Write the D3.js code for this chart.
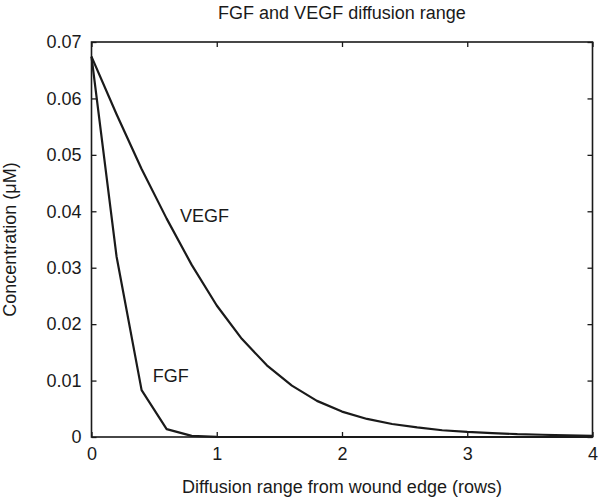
<!DOCTYPE html>
<html>
<head>
<meta charset="utf-8">
<script src="https://cdn.jsdelivr.net/npm/d3@7"></script>
<style>
  html, body { margin: 0; padding: 0; background: #fff; }
  svg { display: block; font-family: "Liberation Sans", Arial, Helvetica, sans-serif; }
</style>
</head>
<body>
<svg id="chart" width="601" height="501"></svg>
<script>
// ---- data ----
const distance = [0, 0.2, 0.4, 0.6, 0.8, 1.0, 1.2, 1.4, 1.6, 1.8, 2.0, 2.2, 2.4, 2.6, 2.8, 3.0, 3.2, 3.4, 3.6, 3.8, 4.0];
const vegf = [0.0674, 0.0572, 0.0475, 0.0387, 0.0305, 0.0233, 0.0174, 0.0127, 0.0091, 0.0064, 0.0045, 0.0032, 0.0023, 0.0017, 0.0012, 0.0009, 0.0007, 0.0005, 0.0004, 0.0003, 0.0002];
const fgf = [0.0674, 0.0320, 0.0083, 0.0014, 0.0002, 0.00003, 0, 0, 0, 0, 0, 0, 0, 0, 0, 0, 0, 0, 0, 0, 0];
const xTicks = [0, 1, 2, 3, 4];
const yTicks = [0, 0.01, 0.02, 0.03, 0.04, 0.05, 0.06, 0.07];
const seriesNames = ["VEGF", "FGF"];
const labelX = [0.707, 0.49];
const labelY = [0.0381, 0.00975];
const title = "FGF and VEGF diffusion range";
const xTitle = "Diffusion range from wound edge (rows)";
const yTitle = "Concentration (\u03bcM)";

// ---- layout ----
const L = 91.5, R = 592.5, T = 42, B = 437;
const ink = "#1a1a1a";
const fs = 18;
const svg = d3.select("#chart");

const x = d3.scaleLinear().domain([0, 4]).range([L, R]);
const y = d3.scaleLinear().domain([0, 0.07]).range([B, T]);

const fmtY = d => d === 0 ? "0" : d3.format(".2f")(d);

// axes with inward ticks
const gB = svg.append("g").attr("transform", `translate(0,${B})`)
  .call(d3.axisBottom(x).tickValues(xTicks).tickSizeInner(-5).tickSizeOuter(0).tickPadding(10).tickFormat(d3.format("d")));
const gT = svg.append("g").attr("transform", `translate(0,${T})`)
  .call(d3.axisTop(x).tickValues(xTicks).tickSizeInner(-5).tickSizeOuter(0).tickFormat(""));
const gL = svg.append("g").attr("transform", `translate(${L},0)`)
  .call(d3.axisLeft(y).tickValues(yTicks).tickSizeInner(-5).tickSizeOuter(0).tickPadding(10).tickFormat(fmtY));
const gR = svg.append("g").attr("transform", `translate(${R},0)`)
  .call(d3.axisRight(y).tickValues(yTicks).tickSizeInner(-5).tickSizeOuter(0).tickFormat(""));

[gB, gT, gL, gR].forEach(g => {
  g.select(".domain").remove();
  g.selectAll(".tick line").attr("stroke", ink).attr("stroke-width", 1.3);
  g.selectAll(".tick text").attr("fill", ink).attr("font-size", fs).attr("font-family", null);
});
gB.selectAll(".tick text").attr("dy", "0.71em");

// frame
svg.append("rect").attr("x", L).attr("y", T).attr("width", R - L).attr("height", B - T)
  .attr("fill", "none").attr("stroke", ink).attr("stroke-width", 1.6);

// lines
const line = d3.line().x((d, i) => x(distance[i])).y(d => y(d));
[vegf, fgf].forEach(s => {
  svg.append("path").datum(s).attr("d", line)
    .attr("fill", "none").attr("stroke", ink).attr("stroke-width", 2.2).attr("stroke-linejoin", "round");
});

// series labels
seriesNames.forEach((n, i) => {
  svg.append("text").attr("x", x(labelX[i])).attr("y", y(labelY[i]))
    .attr("font-size", fs).attr("fill", ink).text(n);
});

// titles
svg.append("text").attr("x", (L + R) / 2).attr("y", 19).attr("text-anchor", "middle")
  .attr("font-size", fs).attr("fill", ink).text(title);
svg.append("text").attr("x", (L + R) / 2).attr("y", 493).attr("text-anchor", "middle")
  .attr("font-size", fs).attr("fill", ink).text(xTitle);
svg.append("text").attr("transform", `translate(16,${(T + B) / 2}) rotate(-90)`).attr("text-anchor", "middle")
  .attr("font-size", fs).attr("fill", ink).text(yTitle);
</script>
</body>
</html>
